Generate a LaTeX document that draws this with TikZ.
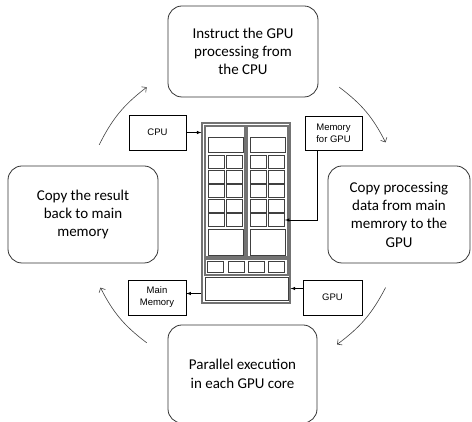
\documentclass[tikz,border=0pt]{standalone}
\usepackage{fontspec}
\setmainfont{Carlito}
\newfontfamily\arialfont{Liberation Sans}
\usetikzlibrary{arrows}
\usetikzlibrary{arrows.meta}
\usetikzlibrary{shapes}

\begin{document}
\begin{tikzpicture}[x = 1pt, y = 1pt]
	\tikzstyle{stepStyle}=[shape = rectangle, rounded corners = 14pt, draw = black!80, line width = 0.8pt, inner sep = 0pt, align = center, font = \fontsize{15}{18.3}\selectfont]
	\tikzstyle{labelStyle}=[shape = rectangle, draw, line width = 0.6pt, inner sep = 0pt, align = center, minimum width = 57pt, minimum height = 35pt, font = \arialfont\fontsize{9.5}{12}\selectfont]
	\tikzstyle{frameStyle}=[shape = rectangle, draw = black!55, line width = 1.2pt, inner sep = 0pt]
	\tikzstyle{cellStyle}=[shape = rectangle, draw = black!75, line width = 0.7pt, inner sep = 0pt]
	\tikzstyle{linkStyle}=[-latex, line width = 0.6pt]
	\tikzstyle{cycleStyle}=[-{Straight Barb[length = 3.5pt, width = 7pt]}, draw = black!75, line width = 0.6pt]
	\useasboundingbox (0, 0) rectangle (472, 422);
	\node[stepStyle, minimum width = 150pt, minimum height = 91pt] (instruct) at (243, 370.5) {Instruct the GPU\\processing from\\the CPU};
	\node[stepStyle, minimum width = 142pt, minimum height = 97pt] (copydata) at (399, 207.5) {Copy processing\\data from main\\memrory to the\\GPU};
	\node[stepStyle, minimum width = 149pt, minimum height = 98pt] (parallel) at (242.5, 48) {Parallel execution\\in each GPU core};
	\node[stepStyle, minimum width = 150pt, minimum height = 97pt] (copyback) at (83, 207.5) {Copy the result\\back to main\\memory};
	\node[labelStyle] (cpu) at (157.5, 289.5) {CPU};
	\node[labelStyle, minimum height = 34pt] (memgpu) at (333.5, 289) {Memory\\for GPU};
	\node[labelStyle, minimum width = 58pt] (mainmem) at (157, 124.5) {Main\\Memory};
	\node[labelStyle, minimum width = 59pt] (gpu) at (332.5, 124.5) {GPU};
	\node[frameStyle, minimum width = 88pt, minimum height = 180pt] (frame) at (246, 209) {};
	\node[frameStyle, minimum width = 40pt, minimum height = 131pt] (lcol) at (225, 230.5) {};
	\node[frameStyle, minimum width = 41pt, minimum height = 131pt] (rcol) at (267.5, 230.5) {};
	\node[cellStyle, minimum width = 35pt, minimum height = 15pt] (ltop) at (225.5, 277.5) {};
	\node[cellStyle, minimum width = 35pt, minimum height = 15pt] (rtop) at (267.5, 277.5) {};
	\foreach \row/\ypos in {1/260, 2/245.5, 3/231, 4/216.5, 5/202} {
		\node[cellStyle, minimum width = 16pt, minimum height = 13pt] (la\row) at (216.5, \ypos) {};
		\node[cellStyle, minimum width = 16pt, minimum height = 13pt] (lb\row) at (234.5, \ypos) {};
		\node[cellStyle, minimum width = 16pt, minimum height = 13pt] (ra\row) at (258.5, \ypos) {};
		\node[cellStyle, minimum width = 16pt, minimum height = 13pt] (rb\row) at (276.5, \ypos) {};
	}
	\node[cellStyle, minimum width = 35pt, minimum height = 26pt] (lbig) at (225.5, 180) {};
	\node[cellStyle, minimum width = 35pt, minimum height = 26pt] (rbig) at (267.5, 180) {};
	\node[frameStyle, minimum width = 83pt, minimum height = 16pt] (strip) at (246.5, 155) {};
	\node[cellStyle, minimum width = 16pt, minimum height = 11pt] (s1) at (215, 155) {};
	\node[cellStyle, minimum width = 16pt, minimum height = 11pt] (s2) at (236.5, 155) {};
	\node[cellStyle, minimum width = 16pt, minimum height = 11pt] (s3) at (256, 155) {};
	\node[cellStyle, minimum width = 16pt, minimum height = 11pt] (s4) at (276.5, 155) {};
	\node[cellStyle, minimum width = 83pt, minimum height = 23pt] (bottom) at (246.5, 133.5) {};
	\draw[linkStyle] (cpu) -- (cpu -| frame.west);
	\draw[linkStyle] ([xshift = -16.5pt]memgpu.south) |- (rb5.east);
	\draw[linkStyle] (gpu.west |- bottom) -- (bottom -| frame.east);
	\draw[linkStyle] ([yshift = 4pt]mainmem.east -| frame.west) -- ([yshift = 4pt]mainmem.east);
	\coordinate (hub) at (243, 207);
	\coordinate (tlA) at ([shift = {(154:160pt)}]hub);
	\coordinate (tlB) at ([shift = {(127:160pt)}]hub);
	\coordinate (trA) at ([shift = {(53:160pt)}]hub);
	\coordinate (trB) at ([shift = {(27:160pt)}]hub);
	\coordinate (brA) at ([shift = {(-27:160pt)}]hub);
	\coordinate (brB) at ([shift = {(-54:160pt)}]hub);
	\coordinate (blA) at ([shift = {(-127:160pt)}]hub);
	\coordinate (blB) at ([shift = {(-153:160pt)}]hub);
	\draw[cycleStyle] (tlA) to[bend left = 13] (tlB);
	\draw[cycleStyle] (trA) to[bend left = 13] (trB);
	\draw[cycleStyle] (brA) to[bend left = 13] (brB);
	\draw[cycleStyle] (blA) to[bend left = 13] (blB);
\end{tikzpicture}
\end{document}
